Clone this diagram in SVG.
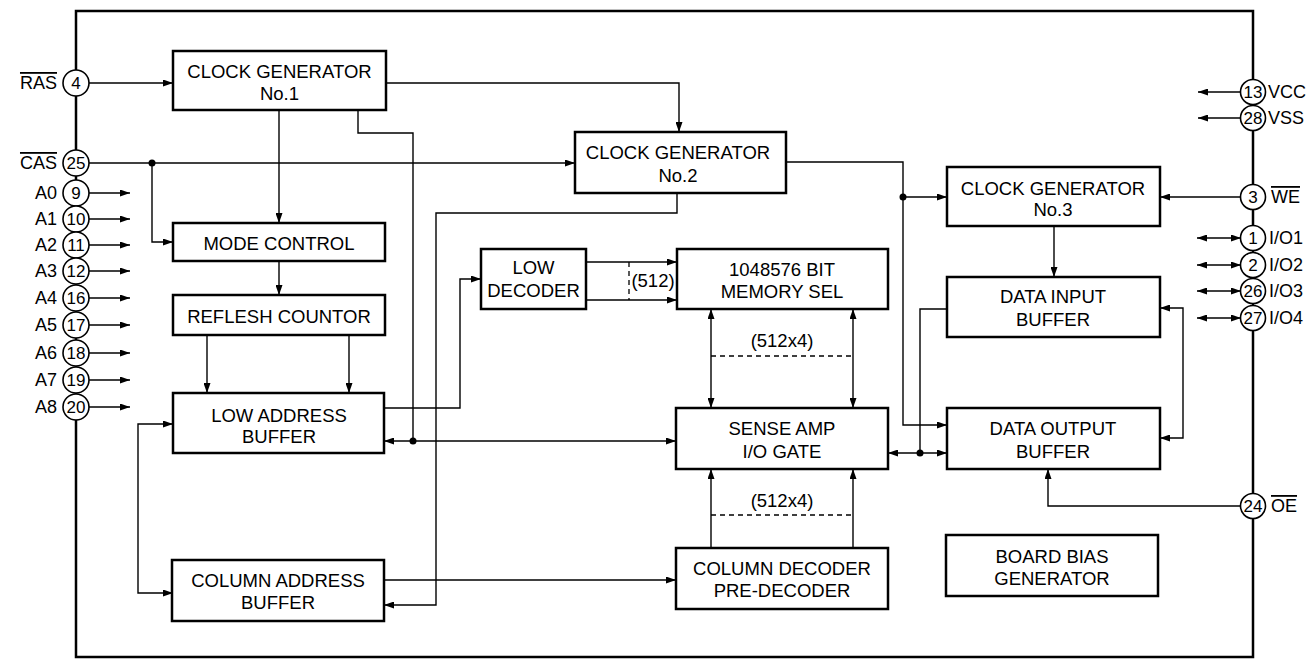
<svg xmlns="http://www.w3.org/2000/svg" width="1308" height="659" viewBox="0 0 1308 659">
<defs>
<marker id="arr" markerUnits="userSpaceOnUse" markerWidth="10" markerHeight="7" refX="10" refY="3.5" orient="auto-start-reverse">
<path d="M0,0 L10,3.5 L0,7 z" fill="#000"/>
</marker>
<style>
.box{fill:#fff;stroke:#000;stroke-width:2.5}
.w{fill:none;stroke:#000;stroke-width:1.4}
.a{marker-end:url(#arr)}
.b{marker-start:url(#arr);marker-end:url(#arr)}
.d{fill:none;stroke:#000;stroke-width:1.3;stroke-dasharray:5 4}
.dot{fill:#000}
.t{font-family:"Liberation Sans",Arial,Helvetica,sans-serif;font-size:18.5px;fill:#000;text-anchor:middle}
.pl{font-family:"Liberation Sans",Arial,Helvetica,sans-serif;font-size:18px;fill:#000;text-anchor:end}
.pr{font-family:"Liberation Sans",Arial,Helvetica,sans-serif;font-size:18px;fill:#000;text-anchor:start}
.pn{font-family:"Liberation Sans",Arial,Helvetica,sans-serif;font-size:17px;fill:#000;text-anchor:middle}
.pin{fill:#fff;stroke:#000;stroke-width:1.6}
.frame{fill:none;stroke:#000;stroke-width:2.5}
.ov{text-decoration:overline}
</style>
</defs>
<rect class="frame" x="76" y="11" width="1177" height="646"/>

<g id="connectors">
<path class="w a" d="M89,83 H173"/>
<path class="w a" d="M386,83 H679 V132"/>
<path class="w a" d="M279,110 V223"/>
<path class="w" d="M358,110 V133 H413 V441"/>
<path class="w b" d="M384,441 H676"/>
<circle class="dot" cx="413" cy="441" r="3.5"/>
<path class="w a" d="M89,163 H575"/>
<circle class="dot" cx="152" cy="163" r="3.5"/>
<path class="w a" d="M152,163 V242 H173"/>
<path class="w a" d="M677,193 V213 H436 V605 H384"/>
<path class="w a" d="M786,162 H903 V425 H947"/>
<circle class="dot" cx="903" cy="197" r="3.5"/>
<path class="w a" d="M903,197 H947"/>
<path class="w a" d="M1240,197 H1160"/>
<path class="w a" d="M1054,226 V277"/>
<path class="w" d="M947,309 H920 V453"/>
<path class="w b" d="M888,453 H947"/>
<circle class="dot" cx="920" cy="453" r="3.5"/>
<path class="w b" d="M1160,438 H1183 V308 H1160"/>
<path class="w a" d="M1240,506 H1048 V469"/>
<path class="w a" d="M279,261 V295"/>
<path class="w a" d="M207,335 V393"/>
<path class="w a" d="M349,335 V393"/>
<path class="w a" d="M384,408 H460 V279 H481"/>
<path class="w a" d="M586,262 H677"/>
<path class="w a" d="M586,300 H677"/>
<path class="d" d="M629,262 V300"/>
<path class="w b" d="M711,309 V408"/>
<path class="w b" d="M853,309 V408"/>
<path class="d" d="M711,356 H853"/>
<path class="w a" d="M711,548 V469"/>
<path class="w a" d="M853,548 V469"/>
<path class="d" d="M711,515 H853"/>
<path class="w a" d="M384,580 H676"/>
<path class="w b" d="M173,424 H138 V593 H173"/>
<path class="w a" d="M89,193 H130"/>
<path class="w a" d="M89,219 H130"/>
<path class="w a" d="M89,245 H130"/>
<path class="w a" d="M89,271 H130"/>
<path class="w a" d="M89,298 H130"/>
<path class="w a" d="M89,325 H130"/>
<path class="w a" d="M89,353 H130"/>
<path class="w a" d="M89,380 H130"/>
<path class="w a" d="M89,407 H130"/>
<path class="w a" d="M1241,92 H1198"/>
<path class="w a" d="M1241,118 H1198"/>
<path class="w b" d="M1197,238 H1241"/>
<path class="w b" d="M1197,265 H1241"/>
<path class="w b" d="M1197,291 H1241"/>
<path class="w b" d="M1197,318 H1241"/>
</g>

<g id="cg1"><rect class="box" x="173" y="51" width="213" height="59"/><text class="t" x="279.5" y="78">CLOCK GENERATOR</text><text class="t" x="279.5" y="100">No.1</text></g>
<g id="cg2"><rect class="box" x="575" y="132" width="211" height="61"/><text class="t" x="678" y="159">CLOCK GENERATOR</text><text class="t" x="678" y="182">No.2</text></g>
<g id="cg3"><rect class="box" x="947" y="167" width="213" height="59"/><text class="t" x="1053" y="195">CLOCK GENERATOR</text><text class="t" x="1053" y="216">No.3</text></g>
<g id="mode"><rect class="box" x="173" y="223" width="212" height="38"/><text class="t" x="279" y="250">MODE CONTROL</text></g>
<g id="refresh"><rect class="box" x="173" y="295" width="212" height="40"/><text class="t" x="279" y="323">REFLESH COUNTOR</text></g>
<g id="lab"><rect class="box" x="173" y="393" width="211" height="60"/><text class="t" x="279" y="422">LOW ADDRESS</text><text class="t" x="279" y="443">BUFFER</text></g>
<g id="cab"><rect class="box" x="172" y="560" width="212" height="61"/><text class="t" x="278" y="587">COLUMN ADDRESS</text><text class="t" x="278" y="609">BUFFER</text></g>
<g id="lowdec"><rect class="box" x="481" y="249" width="105" height="60"/><text class="t" x="533.5" y="274">LOW</text><text class="t" x="533.5" y="297">DECODER</text></g>
<g id="mem"><rect class="box" x="677" y="249" width="211" height="60"/><text class="t" x="782" y="276">1048576 BIT</text><text class="t" x="782" y="298">MEMORY SEL</text></g>
<g id="sa"><rect class="box" x="676" y="408" width="212" height="61"/><text class="t" x="782" y="435">SENSE AMP</text><text class="t" x="782" y="458">I/O GATE</text></g>
<g id="cd"><rect class="box" x="676" y="548" width="212" height="61"/><text class="t" x="782" y="575">COLUMN DECODER</text><text class="t" x="782" y="597">PRE-DECODER</text></g>
<g id="dib"><rect class="box" x="947" y="277" width="213" height="60"/><text class="t" x="1053" y="303">DATA INPUT</text><text class="t" x="1053" y="326">BUFFER</text></g>
<g id="dob"><rect class="box" x="947" y="408" width="213" height="61"/><text class="t" x="1053" y="435">DATA OUTPUT</text><text class="t" x="1053" y="458">BUFFER</text></g>
<g id="bb"><rect class="box" x="946" y="535" width="212" height="61"/><text class="t" x="1052" y="563">BOARD BIAS</text><text class="t" x="1052" y="585">GENERATOR</text></g>

<g id="labels">
<text class="t" x="653" y="287">(512)</text>
<text class="t" x="782" y="347">(512x4)</text>
<text class="t" x="782" y="507">(512x4)</text>
</g>

<g id="pins-left">
<circle class="pin" cx="76" cy="83" r="13"/><text class="pn" x="76" y="89">4</text><text class="pl ov" x="57" y="89">RAS</text>
<circle class="pin" cx="76" cy="163" r="13"/><text class="pn" x="76" y="169">25</text><text class="pl ov" x="57" y="169">CAS</text>
<circle class="pin" cx="76" cy="193" r="13"/><text class="pn" x="76" y="199">9</text><text class="pl" x="57" y="199">A0</text>
<circle class="pin" cx="76" cy="219" r="13"/><text class="pn" x="76" y="225">10</text><text class="pl" x="57" y="225">A1</text>
<circle class="pin" cx="76" cy="245" r="13"/><text class="pn" x="76" y="251">11</text><text class="pl" x="57" y="251">A2</text>
<circle class="pin" cx="76" cy="271" r="13"/><text class="pn" x="76" y="277">12</text><text class="pl" x="57" y="277">A3</text>
<circle class="pin" cx="76" cy="298" r="13"/><text class="pn" x="76" y="304">16</text><text class="pl" x="57" y="304">A4</text>
<circle class="pin" cx="76" cy="325" r="13"/><text class="pn" x="76" y="331">17</text><text class="pl" x="57" y="331">A5</text>
<circle class="pin" cx="76" cy="353" r="13"/><text class="pn" x="76" y="359">18</text><text class="pl" x="57" y="359">A6</text>
<circle class="pin" cx="76" cy="380" r="13"/><text class="pn" x="76" y="386">19</text><text class="pl" x="57" y="386">A7</text>
<circle class="pin" cx="76" cy="407" r="13"/><text class="pn" x="76" y="413">20</text><text class="pl" x="57" y="413">A8</text>
</g>

<g id="pins-right">
<circle class="pin" cx="1253" cy="92" r="12.5"/><text class="pn" x="1253" y="98">13</text><text class="pr" x="1268" y="98">VCC</text>
<circle class="pin" cx="1253" cy="118" r="12.5"/><text class="pn" x="1253" y="124">28</text><text class="pr" x="1268" y="124">VSS</text>
<circle class="pin" cx="1253" cy="197" r="12.5"/><text class="pn" x="1253" y="203">3</text><text class="pr ov" x="1271" y="203">WE</text>
<circle class="pin" cx="1253" cy="238" r="12.5"/><text class="pn" x="1253" y="244">1</text><text class="pr" x="1269" y="244">I/O1</text>
<circle class="pin" cx="1253" cy="265" r="12.5"/><text class="pn" x="1253" y="271">2</text><text class="pr" x="1269" y="271">I/O2</text>
<circle class="pin" cx="1253" cy="291" r="12.5"/><text class="pn" x="1253" y="297">26</text><text class="pr" x="1269" y="297">I/O3</text>
<circle class="pin" cx="1253" cy="318" r="12.5"/><text class="pn" x="1253" y="324">27</text><text class="pr" x="1269" y="324">I/O4</text>
<circle class="pin" cx="1253" cy="506" r="12.5"/><text class="pn" x="1253" y="512">24</text><text class="pr ov" x="1271" y="512">OE</text>
</g>
</svg>
